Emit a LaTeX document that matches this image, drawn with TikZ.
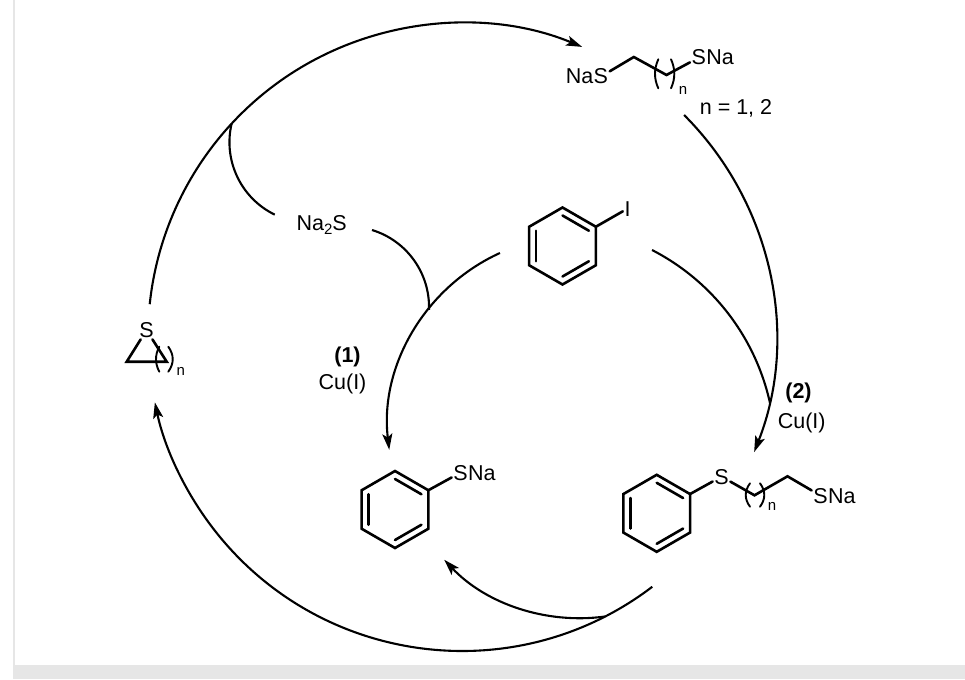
\documentclass[tikz,border=0pt]{standalone}
\usepackage{fontspec}
\setmainfont{Liberation Sans}
\usetikzlibrary{arrows.meta}
\definecolor{framegray}{HTML}{E6E6E6}
\newcommand\chemfs{\fontsize{21.5}{25}\selectfont}
\newcommand\subfs{\fontsize{15}{17}\selectfont}
\newcommand\nsub{\raisebox{-4pt}{\subfs 2}}
\tikzset{
  bond/.style={line width=2.6pt, line cap=round, line join=miter},
  cyc/.style={line width=2.1pt},
  brk/.style={line width=1.9pt, line cap=round},
  tip/.style={-{Stealth[length=16pt,width=10pt,inset=3.5pt]}},
  atom/.style={font=\chemfs, inner sep=1.5pt, anchor=base},
  lab/.style={font=\chemfs, inner sep=0pt, anchor=base},
  sub/.style={font=\subfs, inner sep=0pt, anchor=base},
  benzene/.pic={
    \draw[bond] (-90:38.5)--(-30:38.5)--(30:38.5)--(90:38.5)--(150:38.5)--(210:38.5)--cycle;
    \draw[bond] (-90:30.5)--(-30:30.5);
    \draw[bond] (30:30.5)--(90:30.5);
    \draw[bond] (150:30.5)--(210:30.5);
    \coordinate (-ur) at (-30:38.5);
  }
}
\begin{document}
\begin{tikzpicture}[x=1pt,y=-1pt]
\useasboundingbox (0,0) rectangle (965,679);
\fill[white] (0,0) rectangle (965,679);
\fill[framegray] (13,0) rectangle (15,665);
\fill[framegray] (13,665) rectangle (965,679);

% big cycle
\coordinate (O) at (462,337);
\coordinate (A1) at ([shift={(-174:314)}]O);
\coordinate (A2) at ([shift={(-45:314)}]O);
\coordinate (A3) at ([shift={(52.7:314)}]O);
\coordinate (J1) at ([shift={(-137.2:314)}]O);
\coordinate (J3) at ([shift={(62.9:314)}]O);
\draw[cyc,tip] (A1) arc[start angle=-174, end angle=-67.5, radius=314];
\draw[cyc,tip] (A2) arc[start angle=-45, end angle=21.5, radius=314];
\draw[cyc,tip] (A3) arc[start angle=52.7, end angle=168, radius=314];

% Na2S curves
\coordinate (N2) at (372,230);
\draw[cyc] (J1) arc[start angle=193.3, end angle=116, radius=80.6];
\draw[cyc] (N2) arc[start angle=-73, end angle=2, radius=80.6];

% curve (1)
\coordinate (C1s) at (499.9,253);
\draw[cyc,tip] (C1s) arc[start angle=245.5, end angle=173.2, radius=191.4];
% curve (2)
\coordinate (C2s) at (652,250);
\draw[cyc] (C2s) arc[start angle=-62.8, end angle=-12.5, radius=227.2];
% bottom branch
\draw[cyc,tip] (J3) arc[start angle=82.3, end angle=136.6, radius=186.9];

% benzene rings
\pic (b1) at (562.5,246) {benzene};
\pic (b2) at (395,509.5) {benzene};
\pic (b3) at (656.7,513.3) {benzene};

% iodobenzene
\node[atom] (I) at (627.5,216) {I};
\draw[bond] (b1-ur) -- (I);

% PhSNa
\node[atom] (S2) at (460.5,480) {S};
\node[lab, anchor=base west] (Na2) at ([xshift=-1.5pt]S2.base east) {Na};
\draw[bond] (b2-ur) -- (S2);

% PhS-chain-SNa
\node[atom] (S3) at (721.5,484) {S};
\coordinate (C1) at (754.5,495.3);
\coordinate (C2) at (787.5,476.3);
\node[atom] (S4) at (820.5,503) {S};
\node[lab, anchor=base west] (Na4) at ([xshift=-1.5pt]S4.base east) {Na};
\draw[bond] (b3-ur) -- (S3);
\draw[bond] (S3) -- (C1) -- (C2) -- (S4);
\draw[brk] (750,483.3) .. controls (744.3,491) and (744.3,499) .. (750,506.7);
\draw[brk] (760,483.3) .. controls (765.7,491) and (765.7,499) .. (760,506.7);
\node[sub] (n3) at (772,510.7) {n};

% NaS-chain-SNa (top)
\node[atom] (Sa) at (600.8,84) {S};
\node[lab, anchor=base east] (Naa) at ([xshift=1.5pt]Sa.base west) {Na};
\coordinate (V1) at (633.8,57);
\coordinate (V2) at (666.5,75);
\node[atom] (Sb) at (698.8,65) {S};
\node[lab, anchor=base west] (Nab) at ([xshift=-1.5pt]Sb.base east) {Na};
\draw[bond] (Sa) -- (V1) -- (V2) -- (Sb);
\draw[brk] (658.3,59.3) .. controls (653.9,69) and (653.9,78.6) .. (658.3,88.3);
\draw[brk] (671,59.3) .. controls (675.4,69) and (675.4,78.6) .. (671,88.3);
\node[sub] (n1) at (683,95) {n};
\node[lab] (nval) at (736,115) {n = 1, 2};

% thiirane
\node[atom] (tS) at (146.5,337.5) {S};
\coordinate (tBL) at (126.7,361.7);
\coordinate (tBR) at (166.7,361.7);
\draw[bond] (tS) -- (tBL) -- (tBR) -- (tS);
\draw[brk] (159.3,346.7) .. controls (154.9,355) and (154.9,363.4) .. (159.3,371.7);
\draw[brk] (168.3,346.7) .. controls (174.2,355) and (174.2,363.4) .. (168.3,371.7);
\node[sub] (n2) at (180.7,375.3) {n};

% labels
\node[lab] (na2s) at (321.7,230.4) {Na\nsub S};
\node[lab] (r1) at (347.5,362) {\bfseries (1)};
\node[lab] (cu1) at (342.5,389) {Cu(I)};
\node[lab] (r2) at (798.5,398) {\bfseries (2)};
\node[lab] (cu2) at (801.7,428) {Cu(I)};
\end{tikzpicture}
\end{document}
